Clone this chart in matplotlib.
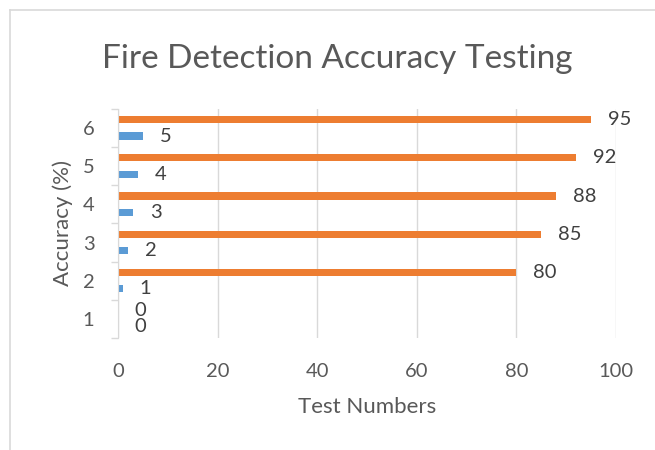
import numpy as np
import matplotlib.pyplot as plt
from matplotlib.lines import Line2D

categories = [1, 2, 3, 4, 5, 6]
test_numbers = [0, 1, 2, 3, 4, 5]
accuracy = [0, 80, 85, 88, 92, 95]
x_ticks = [0, 20, 40, 60, 80, 100]

plt.rcParams['font.family'] = ['Lato', 'DejaVu Sans']
txt = '#595959'

fig = plt.figure(figsize=(6.55, 4.5), dpi=100)
ax = fig.add_axes([0.1802, 0.2489, 0.7603, 0.5089])

y = np.array(categories, dtype=float)
h = 0.19
b1 = ax.barh(y - 0.21, test_numbers, height=h, color='#5b9bd5', zorder=3)
b2 = ax.barh(y + 0.22, accuracy, height=h, color='#ed7d31', zorder=3)
for bars, vals in ((b1, test_numbers), (b2, accuracy)):
    for r, v in zip(bars, vals):
        ax.annotate(str(v), (r.get_width(), r.get_y() + r.get_height() / 2),
                    xytext=(12, 0), textcoords='offset points',
                    ha='left', va='center', fontsize=14.5, color='#404040')

ax.set_xlim(0, 100)
ax.set_ylim(0.5, 6.5)
ax.set_xticks(x_ticks)
ax.set_xticklabels([str(t) for t in x_ticks])
ax.set_yticks(categories)
ax.set_yticks(np.arange(0.5, 7, 1), minor=True)
ax.tick_params(axis='x', length=0, pad=18, labelsize=14.5, labelcolor=txt)
ax.tick_params(axis='y', which='major', length=0, pad=17, labelsize=14.5, labelcolor=txt)
ax.tick_params(axis='y', which='minor', length=5, color='#d9d9d9', width=1)
ax.xaxis.grid(True, color='#d9d9d9', lw=1, zorder=0)
for s in ('top', 'right', 'bottom'):
    ax.spines[s].set_visible(False)
ax.spines['left'].set_color('#d9d9d9')
ax.spines['left'].set_zorder(4)

ax.set_xlabel('Test Numbers', fontsize=16, color=txt, labelpad=12)
ax.set_ylabel('Accuracy (%)', fontsize=16, color=txt, labelpad=7)
fig.text(0.515, 0.848, 'Fire Detection Accuracy Testing', fontsize=24,
         color=txt, ha='center', va='baseline')

fig.add_artist(Line2D([9.5 / 655, 9.5 / 655], [0, 1 - 10 / 450], color='#d9d9d9', lw=1.2))
fig.add_artist(Line2D([9.5 / 655, 1], [1 - 10 / 450, 1 - 10 / 450], color='#d9d9d9', lw=1.2))

fig.savefig('out.png', dpi=100)
